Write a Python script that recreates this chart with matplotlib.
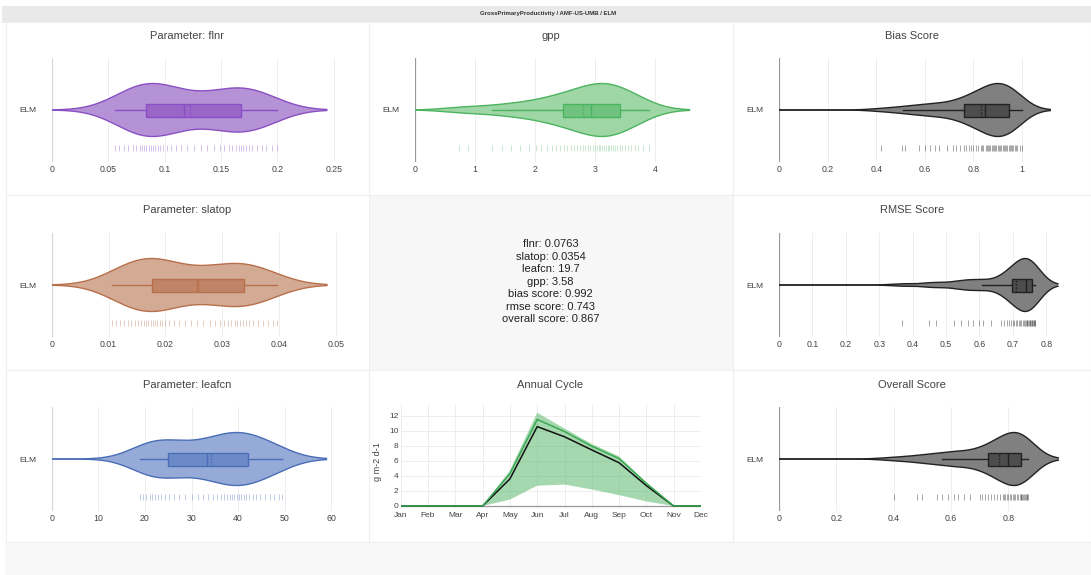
"""
Сводная панель: распределения параметров и оценок ELM (AMF-US-UMB)
"""
import numpy as np
import matplotlib
matplotlib.use('Agg')
import matplotlib.pyplot as plt
from matplotlib.patches import Rectangle

plt.rcParams['font.family'] = ['Liberation Sans', 'DejaVu Sans']

FIG_W, FIG_H = 1091, 575

# ---- данные ----
FLNR = [0.056, 0.06, 0.064, 0.068, 0.072, 0.075, 0.078, 0.08, 0.082, 0.084, 0.086,
        0.088, 0.09, 0.092, 0.094, 0.096, 0.099, 0.102, 0.106, 0.11, 0.115, 0.12,
        0.126, 0.132, 0.138, 0.144, 0.149, 0.153, 0.157, 0.16, 0.163, 0.166, 0.168,
        0.17, 0.172, 0.175, 0.178, 0.182, 0.186, 0.19, 0.195, 0.2]
SLATOP = [0.0106, 0.0113, 0.012, 0.0127, 0.0134, 0.014, 0.0146, 0.0152, 0.0157,
          0.0162, 0.0166, 0.017, 0.0174, 0.0178, 0.0182, 0.0186, 0.019, 0.0195,
          0.02, 0.0207, 0.0215, 0.0224, 0.0234, 0.0245, 0.0256, 0.0267, 0.0278,
          0.0288, 0.0296, 0.0303, 0.031, 0.0316, 0.0322, 0.0327, 0.0332, 0.0337,
          0.0342, 0.0348, 0.0355, 0.0363, 0.0372, 0.0381, 0.039, 0.0397]
LEAFCN = [18.9, 19.6, 20.3, 21.0, 21.6, 22.2, 22.8, 23.5, 24.3, 25.2, 26.2, 27.4,
          28.7, 30.0, 31.3, 32.5, 33.6, 34.6, 35.5, 36.3, 37.0, 37.6, 38.2, 38.7,
          39.2, 39.7, 40.2, 40.7, 41.2, 41.8, 42.4, 43.1, 43.9, 44.8, 45.8, 46.8,
          47.8, 48.7, 49.5]
GPP = [0.73, 0.88, 1.28, 1.45, 1.6, 1.75, 1.9, 2.02, 2.1, 2.2, 2.28, 2.35, 2.42,
       2.48, 2.54, 2.6, 2.65, 2.7, 2.75, 2.8, 2.84, 2.88, 2.92, 2.96, 3.0, 3.03,
       3.06, 3.09, 3.12, 3.15, 3.18, 3.21, 3.24, 3.27, 3.3, 3.33, 3.37, 3.41,
       3.45, 3.5, 3.55, 3.6, 3.66, 3.72, 3.8, 3.9]
BIAS = [0.42, 0.505, 0.52, 0.575, 0.6, 0.62, 0.64, 0.66, 0.69, 0.715, 0.73, 0.745,
        0.76, 0.77, 0.78, 0.79, 0.8, 0.81, 0.82, 0.83, 0.835, 0.84, 0.85, 0.855,
        0.86, 0.865, 0.87, 0.875, 0.88, 0.885, 0.89, 0.895, 0.9, 0.905, 0.91,
        0.915, 0.92, 0.925, 0.93, 0.935, 0.94, 0.945, 0.95, 0.955, 0.96, 0.965,
        0.97, 0.975, 0.98, 0.99, 1.0]
RMSE = [0.367, 0.45, 0.47, 0.525, 0.545, 0.565, 0.58, 0.6, 0.61, 0.635, 0.665,
        0.675, 0.683, 0.69, 0.695, 0.7, 0.705, 0.71, 0.714, 0.718, 0.722, 0.726,
        0.73, 0.733, 0.736, 0.739, 0.742, 0.744, 0.746, 0.748, 0.75, 0.752, 0.754,
        0.756, 0.758, 0.76, 0.762, 0.764, 0.766, 0.767]
OVERALL = [0.4, 0.48, 0.5, 0.55, 0.57, 0.59, 0.61, 0.625, 0.645, 0.665, 0.7, 0.71,
           0.72, 0.73, 0.74, 0.75, 0.76, 0.77, 0.78, 0.785, 0.79, 0.795, 0.8, 0.805,
           0.81, 0.815, 0.82, 0.825, 0.83, 0.835, 0.84, 0.843, 0.846, 0.849, 0.852,
           0.855, 0.858, 0.861, 0.864, 0.867, 0.87]

# статистика боксов: whislo, q1, median, q3, whishi, mean
FLNR_BOX = [0.056, 0.084, 0.117, 0.168, 0.2, 0.123]
SLATOP_BOX = [0.0106, 0.0176, 0.0255, 0.0339, 0.0397, 0.0259]
LEAFCN_BOX = [18.9, 25.0, 33.4, 42.2, 49.5, 34.1]
GPP_BOX = [1.28, 2.46, 2.93, 3.41, 3.9, 2.8]
BIAS_BOX = [0.51, 0.763, 0.849, 0.945, 0.999, 0.83]
RMSE_BOX = [0.607, 0.697, 0.74, 0.757, 0.767, 0.71]
OVERALL_BOX = [0.57, 0.73, 0.80, 0.844, 0.87, 0.767]

FLNR_TICKS = [0, 0.05, 0.1, 0.15, 0.2, 0.25]
SLATOP_TICKS = [0, 0.01, 0.02, 0.03, 0.04, 0.05]
LEAFCN_TICKS = [0, 10, 20, 30, 40, 50, 60]
GPP_TICKS = [0, 1, 2, 3, 4]
BIAS_TICKS = [0, 0.2, 0.4, 0.6, 0.8, 1]
RMSE_TICKS = [0, 0.1, 0.2, 0.3, 0.4, 0.5, 0.6, 0.7, 0.8]
OVERALL_TICKS = [0, 0.2, 0.4, 0.6, 0.8]

MONTHS = ['Jan', 'Feb', 'Mar', 'Apr', 'May', 'Jun', 'Jul', 'Aug', 'Sep', 'Oct', 'Nov', 'Dec']
CYCLE_OBS = [0, 0, 0, 0, 3.6, 10.55, 9.2, 7.45, 5.75, 2.7, 0, 0]
CYCLE_MEAN = [0, 0, 0, 0, 4.3, 11.5, 9.9, 7.95, 6.3, 3.0, 0, 0]
CYCLE_HI = [0, 0, 0, 0, 4.7, 12.4, 10.3, 8.25, 6.6, 3.15, 0, 0]
CYCLE_LO = [0, 0, 0, 0, 0.85, 2.7, 2.85, 2.2, 1.45, 0.6, 0, 0]
CYCLE_YTICKS = [0, 2, 4, 6, 8, 10, 12]

BEST_NAMES = ['flnr', 'slatop', 'leafcn', 'gpp', 'bias score', 'rmse score', 'overall score']
BEST_VALUES = ['0.0763', '0.0354', '19.7', '3.58', '0.992', '0.743', '0.867']

TEXT_COLOR = '#444444'
COL_X0 = [51.7, 415.0, 779.0]        # пиксель нуля оси x в колонке
COL_CENTER = [187, 550.5, 912]
ROW_CENTER = [110, 285, 459]
ROW_TITLE = [36, 210.5, 385]
PLOT_W = 290
HALF = 26.5


def fig_axes(fig, x0, y0, x1, y1):
    """Оси по пиксельным координатам (y вниз)."""
    return fig.add_axes([x0 / FIG_W, 1 - y1 / FIG_H, (x1 - x0) / FIG_W, (y1 - y0) / FIG_H])


def bandwidth(samples):
    s = np.asarray(samples, dtype=float)
    q1, q3 = np.percentile(s, [25, 75])
    sigma = min(s.std(ddof=1), (q3 - q1) / 1.349)
    return 1.059 * sigma * len(s) ** (-0.2)


def kde(samples, grid, bw):
    s = np.asarray(samples, dtype=float)
    return np.exp(-0.5 * ((grid[:, None] - s[None, :]) / bw) ** 2).sum(axis=1)


def draw_violin(fig, col, row, samples, box, ticks, px_per_unit, colors, title, zero_style):
    line_c, fill_c, box_c, rug_c, rug_alpha = colors
    x0 = COL_X0[col]
    yc = ROW_CENTER[row]
    ax = fig_axes(fig, x0, yc - 52, x0 + PLOT_W, yc + 52)
    ax.set_xlim(0, PLOT_W / px_per_unit)
    ax.set_ylim(-52, 52)
    ax.patch.set_alpha(0)
    for sp in ax.spines.values():
        sp.set_visible(False)

    bw = bandwidth(samples)
    grid = np.linspace(0, max(samples) + 2 * bw, 500)
    dens = kde(samples, grid, bw)
    half = dens / dens.max() * HALF
    ax.fill_between(grid, -half, half, facecolor=fill_c, edgecolor='none', zorder=2)
    ax.plot(grid, half, color=line_c, lw=1.0, zorder=3)
    ax.plot(grid, -half, color=line_c, lw=1.0, zorder=3)

    whislo, q1, med, q3, whishi, mean = box
    stats = [dict(whislo=whislo, q1=q1, med=med, q3=q3, whishi=whishi, mean=mean, fliers=[])]
    ax.bxp(stats, positions=[0], widths=13, orientation='horizontal', patch_artist=True,
           showcaps=False, showfliers=False, showmeans=True, meanline=True,
           manage_ticks=False, zorder=4,
           boxprops=dict(facecolor=box_c, edgecolor=line_c, linewidth=1.0),
           whiskerprops=dict(color=line_c, linewidth=1.0),
           medianprops=dict(color=line_c, linewidth=1.0),
           meanprops=dict(color=line_c, linewidth=1.0, linestyle=(0, (1.2, 1.2))))

    ax.plot(samples, np.full(len(samples), -38.0), ls='none', marker='|', ms=4,
            mew=0.7, color=rug_c, alpha=rug_alpha, zorder=3)

    z_color, z_lw = zero_style
    ax.axvline(0, color=z_color, lw=z_lw, zorder=1)

    labels = [('%g' % t) for t in ticks]
    ax.set_xticks(ticks, labels)
    ax.set_yticks([0], ['ELM'])
    ax.tick_params(axis='x', length=0, pad=2.5, labelsize=6.3, labelcolor=TEXT_COLOR)
    ax.tick_params(axis='y', length=0, pad=11, labelsize=6.0, labelcolor=TEXT_COLOR)
    ax.grid(axis='x', color='#eeeeee', lw=0.7, zorder=0)
    ax.set_axisbelow(True)

    fig.text(COL_CENTER[col] / FIG_W, 1 - ROW_TITLE[row] / FIG_H, title,
             ha='center', va='center', fontsize=8.0, color=TEXT_COLOR)


def main():
    fig = plt.figure(figsize=(FIG_W / 100, FIG_H / 100), dpi=100)
    fig.patch.set_facecolor('white')

    def rect(x0, y0, x1, y1, fc, ec='none', lw=0):
        fig.add_artist(Rectangle((x0 / FIG_W, 1 - y1 / FIG_H), (x1 - x0) / FIG_W,
                                 (y1 - y0) / FIG_H, transform=fig.transFigure,
                                 facecolor=fc, edgecolor=ec, linewidth=lw, zorder=0))

    # фон страницы
    rect(2, 6, 1091, 22.5, '#e9e9e9')
    rect(5, 542, 1091, 575, '#f8f8f8')
    cols = [(5.5, 368.5), (368.5, 732.5), (732.5, 1091)]
    rows = [(22.5, 195), (195, 369.5), (369.5, 542)]
    for r, (ya, yb) in enumerate(rows):
        for c, (xa, xb) in enumerate(cols):
            fc = '#f7f7f7' if (r == 1 and c == 1) else 'white'
            rect(xa, ya, xb, yb, fc, '#efefef', 0.8)

    fig.text(548 / FIG_W, 1 - 14 / FIG_H, 'GrossPrimaryProductivity / AMF-US-UMB / ELM',
             ha='center', va='center', fontsize=4.3, fontweight='bold', color='#333333')

    light_zero = ('#d6d6d6', 1.6)
    dark_zero = ('#999999', 0.9)
    purple = ('#8a4fc2', '#b592d6', '#9a67c9', '#8a4fc2', 0.35)
    brown = ('#b86f4b', '#d3ab95', '#c08466', '#b86f4b', 0.35)
    blue = ('#4a6db8', '#95aad6', '#6d8ac8', '#4a6db8', 0.35)
    green = ('#4cb35f', '#9fd6a6', '#70c27f', '#4cb35f', 0.3)
    gray = ('#222222', '#808080', '#4d4d4d', '#222222', 0.4)

    draw_violin(fig, 0, 0, FLNR, FLNR_BOX, FLNR_TICKS, 1128, purple, 'Parameter: flnr', light_zero)
    draw_violin(fig, 0, 1, SLATOP, SLATOP_BOX, SLATOP_TICKS, 5680, brown, 'Parameter: slatop', light_zero)
    draw_violin(fig, 0, 2, LEAFCN, LEAFCN_BOX, LEAFCN_TICKS, 4.66, blue, 'Parameter: leafcn', light_zero)
    draw_violin(fig, 1, 0, GPP, GPP_BOX, GPP_TICKS, 60.0, green, 'gpp', dark_zero)
    draw_violin(fig, 2, 0, BIAS, BIAS_BOX, BIAS_TICKS, 243.0, gray, 'Bias Score', dark_zero)
    draw_violin(fig, 2, 1, RMSE, RMSE_BOX, RMSE_TICKS, 334.0, gray, 'RMSE Score', dark_zero)
    draw_violin(fig, 2, 2, OVERALL, OVERALL_BOX, OVERALL_TICKS, 286.6, gray, 'Overall Score', dark_zero)

    # текст с лучшими значениями
    for i, (name, val) in enumerate(zip(BEST_NAMES, BEST_VALUES)):
        fig.text(550.5 / FIG_W, 1 - (244.5 + i * 12.45) / FIG_H, f'{name}: {val}',
                 ha='center', va='center', fontsize=8.0, color='#222222')

    # годовой цикл
    x_left, x_right = 400.7, 701.0
    y_zero, ppu = 506.0, 7.525
    y_top, y_bot = 404.0, 508.0
    ax = fig_axes(fig, x_left, y_top, x_right, y_bot)
    ax.set_xlim(0, len(MONTHS) - 1)
    ax.set_ylim((y_zero - y_bot) / ppu, (y_zero - y_top) / ppu)
    ax.patch.set_alpha(0)
    for sp in ax.spines.values():
        sp.set_visible(False)
    m = np.arange(len(MONTHS))
    ax.fill_between(m, CYCLE_LO, CYCLE_HI, facecolor='#4cb35f', alpha=0.5, lw=0, zorder=2)
    ax.axhline(0, color='#999999', lw=0.9, zorder=1)
    ax.plot(m, CYCLE_OBS, color='#111111', lw=1.1, zorder=3)
    ax.plot(m, CYCLE_MEAN, color='#3aa852', lw=1.1, zorder=4)
    ax.set_xticks(m, MONTHS)
    ax.set_yticks(CYCLE_YTICKS, [str(t) for t in CYCLE_YTICKS])
    ax.tick_params(axis='x', length=0, pad=3, labelsize=6.0, labelcolor=TEXT_COLOR)
    ax.tick_params(axis='y', length=0, pad=1.5, labelsize=6.0, labelcolor=TEXT_COLOR)
    ax.grid(True, color='#eeeeee', lw=0.7, zorder=0)
    ax.set_axisbelow(True)
    fig.text(378 / FIG_W, 1 - 462 / FIG_H, 'g m-2 d-1', rotation=90, ha='center',
             va='center', fontsize=6.5, color=TEXT_COLOR)
    fig.text(550.5 / FIG_W, 1 - ROW_TITLE[2] / FIG_H, 'Annual Cycle', ha='center',
             va='center', fontsize=8.0, color=TEXT_COLOR)

    fig.savefig('out.png', dpi=100, facecolor='white')
    plt.close(fig)


if __name__ == '__main__':
    main()
